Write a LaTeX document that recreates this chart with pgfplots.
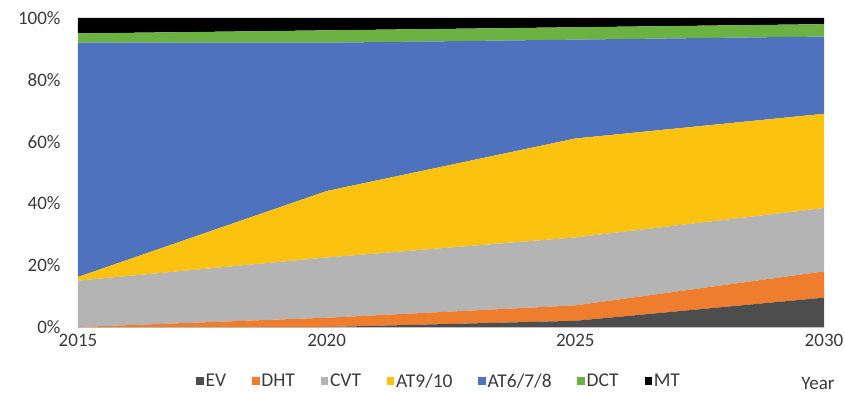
\documentclass[border=0pt]{standalone}
\usepackage{pgfplots}
\pgfplotsset{compat=1.18}
\usepackage{fontspec}
\setmainfont{Carlito}
\definecolor{cEV}{HTML}{4D4D4D}
\definecolor{cDHT}{HTML}{EF7D2E}
\definecolor{cCVT}{HTML}{B4B4B4}
\definecolor{cAT9}{HTML}{FBC210}
\definecolor{cAT6}{HTML}{4E72BD}
\definecolor{cDCT}{HTML}{6CB243}
\definecolor{cMT}{HTML}{000000}
\definecolor{txt}{HTML}{3A3A3A}
\begin{document}
\begin{tikzpicture}
\begin{axis}[name=ax, scale only axis, width=746bp, height=309bp,
  xmin=2015, xmax=2030, ymin=0, ymax=100,
  xtick={2015,2020,2025,2030}, ytick={0,20,...,100},
  stack plots=y,
  axis line style={draw=none}, major tick length=0pt,
  /pgf/number format/assume math mode=true,
  x tick label style={/pgf/number format/1000 sep={}},
  yticklabel={\pgfmathprintnumber{\tick}\%},
  tick label style={font=\fontsize{19bp}{22bp}\selectfont, text=txt},
  y tick label style={xshift=-14bp},
  x tick label style={yshift=-4bp},
  legend image code/.code={\fill[#1] (0bp,-3.5bp) rectangle (7.5bp,4bp);},
  legend style={at={(0.484,-0.175)}, anchor=center, legend columns=7, draw=none, fill=none,
    font=\fontsize{19.5bp}{22bp}\selectfont, text=txt,
    nodes={inner xsep=1.8bp, inner ysep=1bp},
    /tikz/every even column/.append style={column sep=24bp},
    /tikz/every odd column/.append style={column sep=0bp}},
  legend cell align=left,
]
\addplot[fill=cEV, draw=none] coordinates {(2015,0) (2020,0) (2025,2) (2030,9.5)} \closedcycle;
\addlegendentry{EV}
\addplot[fill=cDHT, draw=none] coordinates {(2015,0) (2020,3) (2025,5) (2030,8.5)} \closedcycle;
\addlegendentry{DHT}
\addplot[fill=cCVT, draw=none] coordinates {(2015,15) (2020,19.5) (2025,22) (2030,20.5)} \closedcycle;
\addlegendentry{CVT}
\addplot[fill=cAT9, draw=none] coordinates {(2015,1.2) (2020,21.5) (2025,32) (2030,30.5)} \closedcycle;
\addlegendentry{AT9/10}
\addplot[fill=cAT6, draw=none] coordinates {(2015,75.8) (2020,48) (2025,32) (2030,25)} \closedcycle;
\addlegendentry{AT6/7/8}
\addplot[fill=cDCT, draw=none] coordinates {(2015,3) (2020,4) (2025,4) (2030,4)} \closedcycle;
\addlegendentry{DCT}
\addplot[fill=cMT, draw=none] coordinates {(2015,5) (2020,4) (2025,3) (2030,2)} \closedcycle;
\addlegendentry{MT}
\draw[gray!35, line width=0.8bp] (rel axis cs:0,0) -- (rel axis cs:1,0);
\end{axis}
\node[anchor=center, text=txt, font=\fontsize{19bp}{22bp}\selectfont] at ([xshift=-6bp,yshift=-56bp]ax.south east) {Year};
\pgfresetboundingbox
\path ([xshift=-78bp,yshift=-78bp]ax.south west) rectangle ([xshift=21bp,yshift=18bp]ax.north east);
\end{tikzpicture}
\end{document}
